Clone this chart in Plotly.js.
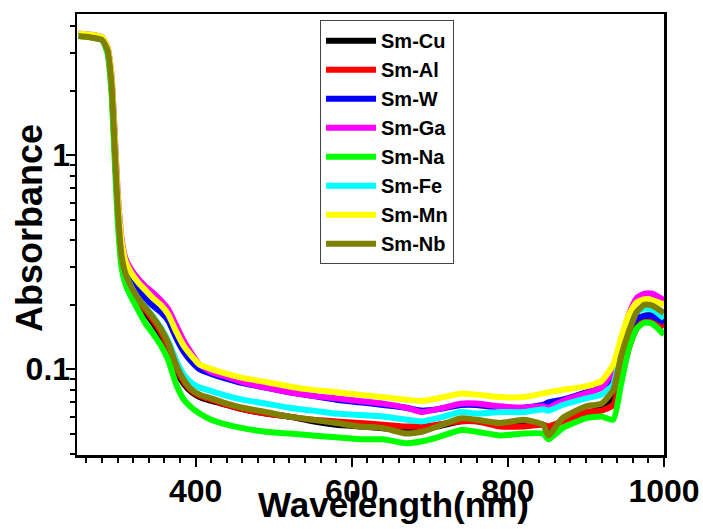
<!DOCTYPE html>
<html>
<head>
<meta charset="utf-8">
<script src="https://cdn.plot.ly/plotly-3.0.1.min.js"></script>
<style>html,body{margin:0;padding:0;background:#fff;}#chart{width:703px;height:529px;}</style>
</head>
<body>
<div id="chart"></div>
<script>
// Wavelength grid (nm)
const wavelength = [250, 265, 280, 287, 292, 296, 300, 305, 310, 318, 326, 335, 345, 355, 365, 375, 385, 395, 405, 420, 440, 460, 490, 520, 550, 580, 610, 640, 670, 690, 710, 740, 760, 790, 820, 845, 852, 870, 900, 920, 935, 945, 955, 965, 975, 985, 1000];

const smCu = [3.65, 3.6, 3.5, 3.1, 2.2, 1.15, 0.57, 0.33, 0.27, 0.23, 0.205, 0.185, 0.165, 0.145, 0.122, 0.098, 0.085, 0.078, 0.074, 0.071, 0.068, 0.065, 0.062, 0.060, 0.057, 0.055, 0.054, 0.053, 0.052, 0.053, 0.054, 0.057, 0.057, 0.055, 0.056, 0.055, 0.052, 0.058, 0.062, 0.066, 0.075, 0.100, 0.135, 0.165, 0.178, 0.178, 0.165];
const smAl = [3.6, 3.6, 3.5, 3.1, 2.2, 1.15, 0.57, 0.33, 0.27, 0.235, 0.21, 0.19, 0.17, 0.15, 0.127, 0.102, 0.087, 0.079, 0.075, 0.072, 0.068, 0.065, 0.062, 0.060, 0.058, 0.057, 0.056, 0.055, 0.054, 0.054, 0.055, 0.057, 0.057, 0.054, 0.054, 0.055, 0.054, 0.057, 0.063, 0.064, 0.068, 0.090, 0.125, 0.155, 0.170, 0.170, 0.157];
const smW  = [3.65, 3.6, 3.5, 3.15, 2.3, 1.25, 0.62, 0.37, 0.30, 0.26, 0.235, 0.215, 0.198, 0.185, 0.168, 0.140, 0.120, 0.108, 0.100, 0.095, 0.090, 0.086, 0.082, 0.078, 0.075, 0.072, 0.070, 0.068, 0.066, 0.064, 0.065, 0.068, 0.068, 0.066, 0.066, 0.068, 0.070, 0.072, 0.078, 0.083, 0.090, 0.120, 0.155, 0.172, 0.177, 0.177, 0.165];
const smGa = [3.7, 3.65, 3.55, 3.2, 2.4, 1.35, 0.68, 0.41, 0.33, 0.29, 0.265, 0.245, 0.228, 0.21, 0.19, 0.16, 0.135, 0.118, 0.105, 0.097, 0.092, 0.087, 0.082, 0.078, 0.075, 0.073, 0.071, 0.069, 0.066, 0.063, 0.065, 0.069, 0.069, 0.067, 0.066, 0.067, 0.066, 0.071, 0.077, 0.082, 0.098, 0.135, 0.180, 0.215, 0.225, 0.225, 0.210];
const smNa = [3.6, 3.55, 3.45, 3.0, 2.0, 1.0, 0.5, 0.30, 0.25, 0.215, 0.19, 0.165, 0.147, 0.13, 0.11, 0.085, 0.072, 0.066, 0.062, 0.058, 0.055, 0.053, 0.051, 0.050, 0.049, 0.048, 0.047, 0.047, 0.045, 0.046, 0.048, 0.052, 0.051, 0.049, 0.050, 0.050, 0.047, 0.053, 0.059, 0.060, 0.058, 0.085, 0.125, 0.155, 0.165, 0.163, 0.145];
const smFe = [3.6, 3.6, 3.5, 3.1, 2.25, 1.2, 0.6, 0.35, 0.28, 0.24, 0.215, 0.196, 0.177, 0.157, 0.135, 0.110, 0.094, 0.086, 0.082, 0.079, 0.075, 0.072, 0.069, 0.066, 0.064, 0.062, 0.061, 0.060, 0.058, 0.057, 0.059, 0.063, 0.062, 0.063, 0.063, 0.065, 0.064, 0.068, 0.073, 0.076, 0.085, 0.120, 0.158, 0.185, 0.192, 0.190, 0.173];
const smMn = [3.7, 3.65, 3.55, 3.2, 2.4, 1.3, 0.66, 0.40, 0.32, 0.28, 0.255, 0.235, 0.215, 0.20, 0.18, 0.15, 0.128, 0.115, 0.105, 0.100, 0.095, 0.091, 0.087, 0.083, 0.080, 0.078, 0.076, 0.074, 0.072, 0.071, 0.073, 0.077, 0.076, 0.074, 0.074, 0.077, 0.078, 0.080, 0.083, 0.088, 0.105, 0.140, 0.180, 0.205, 0.212, 0.210, 0.200];
const smNb = [3.6, 3.55, 3.45, 3.1, 2.2, 1.15, 0.58, 0.34, 0.28, 0.24, 0.215, 0.195, 0.175, 0.155, 0.132, 0.105, 0.089, 0.080, 0.076, 0.073, 0.069, 0.066, 0.063, 0.060, 0.058, 0.056, 0.054, 0.053, 0.050, 0.051, 0.054, 0.059, 0.058, 0.056, 0.058, 0.055, 0.049, 0.059, 0.067, 0.069, 0.080, 0.115, 0.150, 0.185, 0.200, 0.198, 0.183];

const seriesNames = ["Sm-Cu", "Sm-Al", "Sm-W", "Sm-Ga", "Sm-Na", "Sm-Fe", "Sm-Mn", "Sm-Nb"];
const seriesData = [smCu, smAl, smW, smGa, smNa, smFe, smMn, smNb];
const seriesColors = ["#000000", "#ff0000", "#0000ff", "#ff00ff", "#00ff00", "#00ffff", "#ffff00", "#808000"];

const yMajor = [0.1, 1];
const yMajorText = ["0.1", "1"];
const yMinor = [0.04, 0.05, 0.06, 0.07, 0.08, 0.09, 0.2, 0.3, 0.4, 0.5, 0.6, 0.7, 0.8, 0.9, 2, 3, 4];

const xTitle = "Wavelength(nm)";
const yTitle = "Absorbance";

const FONT = "Arial, 'Liberation Sans', sans-serif";

const traces = seriesNames.map((name, i) => ({
  type: "scatter",
  mode: "lines",
  name: name,
  x: wavelength,
  y: seriesData[i],
  line: {color: seriesColors[i], width: 6, shape: "spline", smoothing: 0.5}
}));

const layout = {
  width: 703,
  height: 529,
  margin: {l: 77, r: 39, t: 14, b: 74},
  paper_bgcolor: "#ffffff",
  plot_bgcolor: "#ffffff",
  showlegend: true,
  legend: {
    x: 0.414, y: 0.986, xanchor: "left", yanchor: "top",
    bgcolor: "#ffffff", bordercolor: "#444444", borderwidth: 1,
    font: {family: FONT, size: 20, color: "#000000", weight: "bold"},
    itemwidth: 50
  },
  xaxis: {
    range: [248, 1000],
    tick0: 0, dtick: 200,
    ticks: "outside", ticklen: 9, tickwidth: 2, tickcolor: "#000",
    minor: {dtick: 20, ticks: "outside", ticklen: 5, tickwidth: 2, tickcolor: "#000"},
    showline: true, linecolor: "#000", linewidth: 2.5, mirror: true,
    showgrid: false, zeroline: false,
    tickfont: {family: FONT, size: 32, color: "#000", weight: "bold"},
    ticklabelstandoff: -3,
    automargin: false
  },
  yaxis: {
    type: "log",
    range: [Math.log10(0.0397), Math.log10(4.56)],
    tickmode: "array", tickvals: yMajor, ticktext: yMajorText,
    ticks: "outside", ticklen: 9, tickwidth: 2, tickcolor: "#000",
    minor: {tickmode: "array", tickvals: yMinor, ticks: "outside", ticklen: 5, tickwidth: 2, tickcolor: "#000"},
    showline: true, linecolor: "#000", linewidth: 2.5, mirror: true,
    showgrid: false, zeroline: false,
    tickfont: {family: FONT, size: 32, color: "#000", weight: "bold"},
    ticklabelstandoff: -11,
    automargin: false
  },
  annotations: [
    {text: xTitle, xref: "paper", yref: "paper", x: 0.54, y: -0.113, xanchor: "center", yanchor: "middle",
     showarrow: false, font: {family: FONT, size: 35, color: "#000", weight: "bold"}},
    {text: yTitle, xref: "paper", yref: "paper", x: -0.080, y: 0.515, xanchor: "center", yanchor: "middle",
     textangle: -90, showarrow: false, font: {family: FONT, size: 36, color: "#000", weight: "bold"}}
  ]
};

Plotly.newPlot("chart", traces, layout, {staticPlot: true, displayModeBar: false});
</script>
</body>
</html>
